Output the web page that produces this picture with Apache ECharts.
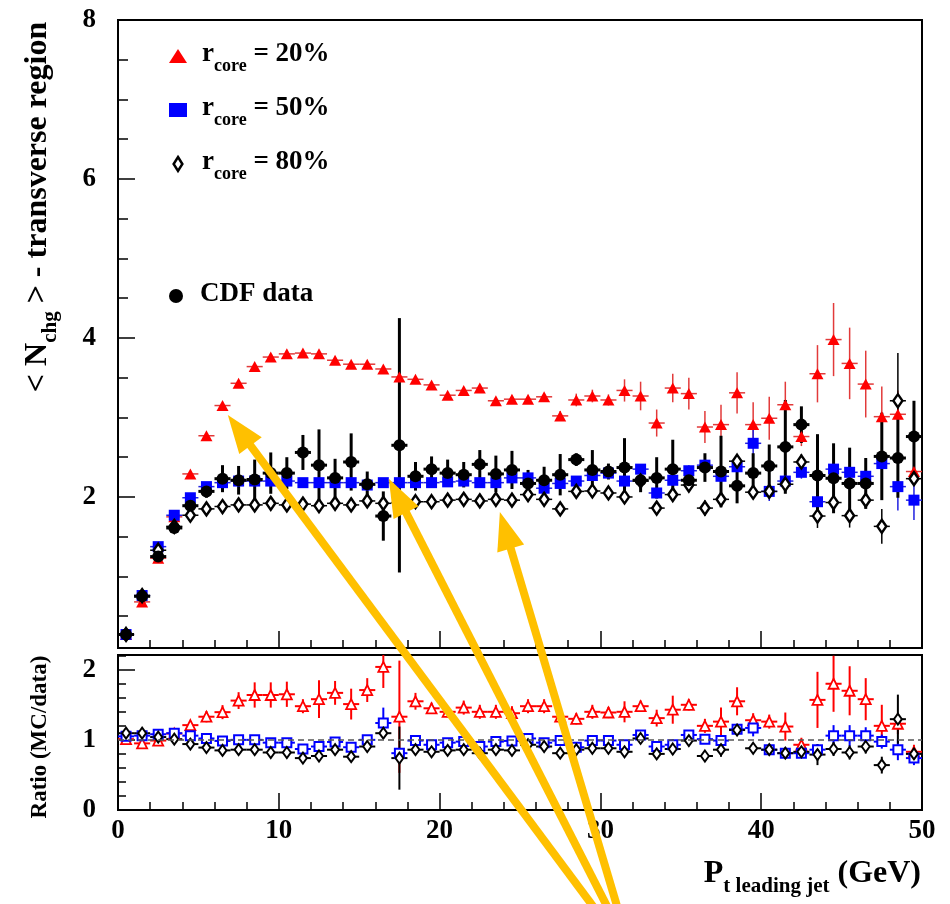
<!DOCTYPE html>
<html>
<head>
<meta charset="utf-8">
<script src="https://cdn.jsdelivr.net/npm/echarts@6/dist/echarts.min.js"></script>
<style>
  html, body { margin: 0; padding: 0; background: #ffffff; }
  #chart { width: 950px; height: 904px; }
</style>
</head>
<body>
<div id="chart"></div>
<script>
// Leading-jet Pt bin centres (GeV)
const bins = [0.5, 1.5, 2.5, 3.5, 4.5, 5.5, 6.5, 7.5, 8.5, 9.5,
  10.5, 11.5, 12.5, 13.5, 14.5, 15.5, 16.5, 17.5, 18.5, 19.5,
  20.5, 21.5, 22.5, 23.5, 24.5, 25.5, 26.5, 27.5, 28.5, 29.5,
  30.5, 31.5, 32.5, 33.5, 34.5, 35.5, 36.5, 37.5, 38.5, 39.5,
  40.5, 41.5, 42.5, 43.5, 44.5, 45.5, 46.5, 47.5, 48.5, 49.5];

// <Nchg> in the transverse region, MC with r_core = 20 %
const rcore20 = [0.27, 0.68, 1.23, 1.75, 2.29, 2.77, 3.15, 3.43, 3.64, 3.76,
  3.80, 3.81, 3.80, 3.72, 3.67, 3.67, 3.61, 3.51, 3.48, 3.41,
  3.28, 3.34, 3.37, 3.21, 3.23, 3.23, 3.26, 3.02, 3.22, 3.27,
  3.22, 3.34, 3.27, 2.93, 3.37, 3.30, 2.88, 2.91, 3.31, 2.91,
  2.99, 3.16, 2.76, 3.55, 3.98, 3.68, 3.42, 3.01, 3.04, 2.32];
const rcore20Err = [0.03, 0.03, 0.03, 0.03, 0.03, 0.03, 0.03, 0.03, 0.03, 0.03,
  0.03, 0.03, 0.03, 0.03, 0.03, 0.03, 0.03, 0.03, 0.03, 0.03,
  0.04, 0.04, 0.04, 0.04, 0.04, 0.04, 0.04, 0.06, 0.08, 0.08,
  0.07, 0.14, 0.18, 0.17, 0.18, 0.20, 0.20, 0.25, 0.26, 0.28,
  0.27, 0.29, 0.12, 0.36, 0.46, 0.45, 0.42, 0.38, 0.30, 0.15];

// MC with r_core = 50 %
const rcore50 = [0.27, 0.76, 1.375, 1.77, 1.99, 2.13, 2.18, 2.20, 2.20, 2.20,
  2.20, 2.18, 2.18, 2.18, 2.18, 2.15, 2.18, 2.18, 2.18, 2.18,
  2.19, 2.20, 2.18, 2.18, 2.24, 2.24, 2.11, 2.17, 2.20, 2.27,
  2.30, 2.20, 2.35, 2.05, 2.21, 2.33, 2.40, 2.26, 2.38, 2.675,
  2.07, 2.20, 2.31, 1.94, 2.35, 2.31, 2.26, 2.42, 2.13, 1.96];
const rcore50Err = [0.03, 0.03, 0.03, 0.03, 0.03, 0.03, 0.03, 0.03, 0.03, 0.03,
  0.03, 0.03, 0.03, 0.03, 0.03, 0.03, 0.03, 0.03, 0.03, 0.03,
  0.03, 0.03, 0.03, 0.03, 0.03, 0.03, 0.05, 0.04, 0.04, 0.04,
  0.04, 0.05, 0.05, 0.06, 0.06, 0.07, 0.08, 0.08, 0.10, 0.25,
  0.12, 0.08, 0.08, 0.10, 0.12, 0.12, 0.10, 0.15, 0.30, 0.25];

// MC with r_core = 80 %
const rcore80 = [0.27, 0.76, 1.33, 1.63, 1.77, 1.85, 1.88, 1.90, 1.90, 1.92,
  1.90, 1.91, 1.89, 1.92, 1.90, 1.95, 1.92, 1.93, 1.94, 1.94,
  1.96, 1.97, 1.95, 1.97, 1.96, 2.03, 1.97, 1.85, 2.07, 2.075,
  2.05, 2.00, 2.20, 1.86, 2.03, 2.15, 1.86, 1.97, 2.45, 2.06,
  2.07, 2.16, 2.44, 1.76, 1.93, 1.765, 1.96, 1.63, 3.21, 2.23];
const rcore80Err = [0.03, 0.03, 0.03, 0.03, 0.03, 0.03, 0.03, 0.03, 0.03, 0.03,
  0.03, 0.03, 0.03, 0.03, 0.03, 0.03, 0.03, 0.03, 0.03, 0.03,
  0.03, 0.03, 0.03, 0.03, 0.03, 0.03, 0.03, 0.04, 0.04, 0.04,
  0.04, 0.05, 0.05, 0.06, 0.06, 0.06, 0.10, 0.08, 0.08, 0.08,
  0.08, 0.08, 0.10, 0.15, 0.10, 0.15, 0.10, 0.22, 0.60, 0.08];

// CDF measurement
const cdfData = [0.27, 0.75, 1.25, 1.61, 1.89, 2.07, 2.23, 2.21, 2.22, 2.30,
  2.30, 2.56, 2.40, 2.24, 2.44, 2.16, 1.76, 2.65, 2.26, 2.35,
  2.30, 2.28, 2.41, 2.29, 2.34, 2.17, 2.21, 2.28, 2.47, 2.34,
  2.32, 2.37, 2.21, 2.24, 2.35, 2.21, 2.37, 2.32, 2.14, 2.30,
  2.39, 2.63, 2.91, 2.27, 2.235, 2.17, 2.17, 2.51, 2.49, 2.76];
const cdfErr = [0.02, 0.03, 0.04, 0.05, 0.06, 0.08, 0.17, 0.18, 0.25, 0.26,
  0.20, 0.22, 0.45, 0.24, 0.36, 0.16, 0.31, 1.60, 0.18, 0.16,
  0.17, 0.16, 0.18, 0.23, 0.24, 0.17, 0.17, 0.26, 0.08, 0.25,
  0.10, 0.37, 0.15, 0.26, 0.37, 0.12, 0.18, 0.45, 0.22, 0.25,
  0.27, 0.59, 0.23, 0.52, 0.44, 0.45, 0.32, 0.55, 0.50, 0.45];

// Ratio MC / data
const ratio20 = [1.01, 0.95, 0.99, 1.09, 1.21, 1.33, 1.395, 1.56, 1.64, 1.64,
  1.65, 1.48, 1.58, 1.67, 1.51, 1.71, 2.04, 1.33, 1.55, 1.45,
  1.40, 1.46, 1.40, 1.40, 1.38, 1.48, 1.48, 1.33, 1.30, 1.40,
  1.39, 1.40, 1.48, 1.31, 1.43, 1.50, 1.20, 1.26, 1.55, 1.28,
  1.26, 1.19, 0.93, 1.57, 1.80, 1.70, 1.58, 1.20, 1.23, 0.83];
const ratio20Err = [0.03, 0.03, 0.03, 0.03, 0.06, 0.08, 0.10, 0.12, 0.18, 0.18,
  0.18, 0.10, 0.27, 0.17, 0.22, 0.17, 0.30, 0.80, 0.12, 0.08,
  0.08, 0.10, 0.10, 0.10, 0.10, 0.10, 0.10, 0.08, 0.08, 0.10,
  0.08, 0.15, 0.08, 0.12, 0.20, 0.08, 0.10, 0.20, 0.20, 0.10,
  0.10, 0.20, 0.10, 0.40, 0.40, 0.35, 0.30, 0.30, 0.15, 0.10];
const ratio50 = [1.05, 1.06, 1.08, 1.095, 1.06, 1.02, 0.985, 1.00, 1.00, 0.96,
  0.96, 0.87, 0.905, 0.97, 0.895, 1.00, 1.24, 0.81, 0.99, 0.93,
  0.96, 0.975, 0.905, 0.975, 0.985, 1.02, 0.96, 0.99, 0.895, 0.99,
  0.99, 0.93, 1.07, 0.905, 0.93, 1.07, 1.01, 0.99, 1.15, 1.17,
  0.86, 0.81, 0.81, 0.86, 1.06, 1.06, 1.06, 0.975, 0.86, 0.74];
const ratio50Err = [0.03, 0.03, 0.03, 0.03, 0.03, 0.04, 0.04, 0.04, 0.04, 0.04,
  0.04, 0.04, 0.08, 0.04, 0.04, 0.05, 0.22, 0.06, 0.04, 0.04,
  0.04, 0.04, 0.04, 0.04, 0.04, 0.04, 0.04, 0.04, 0.04, 0.04,
  0.04, 0.04, 0.05, 0.05, 0.08, 0.04, 0.05, 0.06, 0.08, 0.12,
  0.06, 0.06, 0.06, 0.08, 0.15, 0.15, 0.12, 0.10, 0.15, 0.10];
const ratio80 = [1.095, 1.095, 1.04, 1.01, 0.94, 0.89, 0.85, 0.86, 0.86, 0.82,
  0.82, 0.74, 0.77, 0.86, 0.76, 0.905, 1.095, 0.74, 0.86, 0.83,
  0.85, 0.86, 0.81, 0.86, 0.85, 0.93, 0.905, 0.81, 0.86, 0.88,
  0.88, 0.83, 1.02, 0.80, 0.87, 0.99, 0.77, 0.86, 1.14, 0.88,
  0.86, 0.81, 0.83, 0.79, 0.87, 0.82, 0.905, 0.64, 1.295, 0.80];
const ratio80Err = [0.03, 0.03, 0.03, 0.03, 0.03, 0.04, 0.04, 0.04, 0.04, 0.04,
  0.04, 0.04, 0.08, 0.05, 0.05, 0.06, 0.07, 0.45, 0.04, 0.04,
  0.04, 0.04, 0.04, 0.04, 0.04, 0.04, 0.04, 0.05, 0.04, 0.05,
  0.04, 0.06, 0.04, 0.05, 0.08, 0.04, 0.06, 0.10, 0.07, 0.05,
  0.06, 0.08, 0.06, 0.15, 0.10, 0.10, 0.10, 0.12, 0.35, 0.08];

// Axis tick labels
const xTickLabels = [0, 10, 20, 30, 40, 50];
const yTickLabelsTop = [2, 4, 6, 8];
const yTickLabelsRatio = [0, 1, 2];

// Annotation arrows, given in (Pt, <Nchg>) coordinates of the upper panel
const arrowTips = [[6.83, 3.03], [16.84, 2.23], [23.75, 1.81]];
const arrowTails = [[31.2, -3.6], [31.55, -3.6], [31.7, -3.6]];

const BIN_HALF = 0.5;
const SERIF = "'Liberation Serif', 'DejaVu Serif', serif";
const RED = '#ff0000', BLUE = '#0000ff', BLACK = '#000000', GOLD = '#ffc000';

function withErr(ys, errs) {
  return bins.map((x, i) => [x, ys[i], errs[i]]);
}
function points(ys) {
  return bins.map((x, i) => [x, ys[i]]);
}
function minorTicks(lo, hi, step) {
  const out = [];
  for (let v = lo; v <= hi + 1e-9; v += step) out.push(Math.round(v * 100) / 100);
  return out;
}

// vertical error bar plus a horizontal bar spanning the bin width
function barRenderer(color, vWidth, hWidth) {
  return function (params, api) {
    const x = api.value(0), y = api.value(1), e = api.value(2);
    const hi = api.coord([x, y + e]);
    const lo = api.coord([x, y - e]);
    const l = api.coord([x - BIN_HALF, y]);
    const r = api.coord([x + BIN_HALF, y]);
    return {
      type: 'group',
      children: [
        { type: 'line', shape: { x1: hi[0], y1: hi[1], x2: lo[0], y2: lo[1] }, style: { stroke: color, lineWidth: vWidth } },
        { type: 'line', shape: { x1: l[0], y1: l[1], x2: r[0], y2: r[1] }, style: { stroke: color, lineWidth: hWidth } }
      ]
    };
  };
}

function errSeries(name, xi, yi, data, color, vW, hW) {
  return {
    name: name, type: 'custom', xAxisIndex: xi, yAxisIndex: yi,
    data: data, encode: { x: 0, y: 1 }, clip: true, silent: true,
    renderItem: barRenderer(color, vW, hW)
  };
}
function markerSeries(name, xi, yi, data, symbol, size, itemStyle) {
  return {
    name: name, type: 'scatter', xAxisIndex: xi, yAxisIndex: yi,
    data: data, symbol: symbol, symbolSize: size,
    itemStyle: Object.assign({ opacity: 1 }, itemStyle),
    clip: true, silent: true
  };
}

const richText = {
  m: { fontFamily: SERIF, fontWeight: 'bold', fontSize: 27, lineHeight: 30, verticalAlign: 'top', color: '#000' },
  s: { fontFamily: SERIF, fontWeight: 'bold', fontSize: 18, lineHeight: 20, verticalAlign: 'top', padding: [16, 0, 0, 0], color: '#000' },
  g: { fontFamily: SERIF, fontWeight: 'bold', fontSize: 27, lineHeight: 30, verticalAlign: 'top', padding: [0, 0, 0, 10], color: '#000' },
  M: { fontFamily: SERIF, fontWeight: 'bold', fontSize: 32, lineHeight: 36, verticalAlign: 'top', color: '#000' },
  S: { fontFamily: SERIF, fontWeight: 'bold', fontSize: 21, lineHeight: 24, verticalAlign: 'top', padding: [18, 0, 0, 0], color: '#000' }
};

function legendLabel(name) {
  if (name.indexOf('r_core') === 0) {
    return '{g|r}{s|core}{m| ' + name.slice(7) + '}';
  }
  return '{g|' + name + '}';
}

const chart = echarts.init(document.getElementById('chart'), null, { renderer: 'canvas' });

const axisTextStyle = { fontFamily: SERIF, fontWeight: 'bold', fontSize: 27, color: '#000' };

const option = {
  backgroundColor: '#ffffff',
  animation: false,
  grid: [
    { left: 118, top: 20, width: 804, height: 628, show: true, borderColor: '#000', borderWidth: 2, backgroundColor: 'transparent' },
    { left: 118, top: 655, width: 804, height: 155, show: true, borderColor: '#000', borderWidth: 2, backgroundColor: 'transparent' }
  ],
  xAxis: [
    {
      gridIndex: 0, type: 'value', min: 0, max: 50, interval: 10,
      axisLine: { show: false }, splitLine: { show: false },
      axisTick: { show: true, inside: true, length: 17, lineStyle: { color: '#000', width: 1.5 } },
      minorTick: { show: true, splitNumber: 5, length: 8, lineStyle: { color: '#000', width: 1.5 } },
      axisLabel: { show: false }
    },
    {
      gridIndex: 1, type: 'value', min: 0, max: 50, interval: 10,
      axisLine: { show: false }, splitLine: { show: false },
      axisTick: { show: true, inside: true, length: 17, lineStyle: { color: '#000', width: 1.5 } },
      minorTick: { show: true, splitNumber: 5, length: 8, lineStyle: { color: '#000', width: 1.5 } },
      axisLabel: Object.assign({ show: true, margin: 8, customValues: xTickLabels }, axisTextStyle)
    }
  ],
  yAxis: [
    {
      gridIndex: 0, type: 'value', min: 0.1, max: 8,
      axisLine: { show: false }, splitLine: { show: false },
      axisTick: { show: true, inside: true, length: 10, customValues: minorTicks(0.5, 8, 0.5), lineStyle: { color: '#000', width: 1.5 } },
      axisLabel: Object.assign({ show: true, margin: 22, customValues: yTickLabelsTop }, axisTextStyle)
    },
    {
      gridIndex: 0, type: 'value', min: 0.1, max: 8, position: 'left',
      axisLine: { show: false }, splitLine: { show: false },
      axisTick: { show: true, inside: true, length: 17, customValues: yTickLabelsTop, lineStyle: { color: '#000', width: 1.5 } },
      axisLabel: { show: false }
    },
    {
      gridIndex: 1, type: 'value', min: 0, max: 2.21, interval: 1,
      axisLine: { show: false }, splitLine: { show: false },
      axisTick: { show: true, inside: true, length: 17, lineStyle: { color: '#000', width: 1.5 } },
      minorTick: { show: true, splitNumber: 5, length: 8, lineStyle: { color: '#000', width: 1.5 } },
      axisLabel: Object.assign({ show: true, margin: 22, customValues: yTickLabelsRatio }, axisTextStyle)
    }
  ],
  legend: [
    {
      data: [
        { name: 'r_core = 20%' },
        { name: 'r_core = 50%' },
        { name: 'r_core = 80%', icon: 'path://M5,0L10,8L5,16L0,8Z', itemStyle: { color: '#ffffff', borderColor: BLACK, borderWidth: 2.5 } }
      ],
      orient: 'vertical', left: 164, top: 36, itemWidth: 18, itemHeight: 14, itemGap: 20,
      selectedMode: false, formatter: legendLabel,
      textStyle: { rich: richText }
    },
    {
      data: ['CDF data'],
      orient: 'vertical', left: 164, top: 276, itemWidth: 18, itemHeight: 14,
      selectedMode: false, formatter: legendLabel,
      textStyle: { rich: richText }
    }
  ],
  graphic: {
    elements: [
      {
        id: 'ytitle-top', type: 'text', x: 40, y: 207, rotation: Math.PI / 2,
        style: { text: '{M|< N}{S|chg}{M| > - transverse region}', rich: richText, align: 'center', verticalAlign: 'middle' }
      },
      {
        id: 'ytitle-ratio', type: 'text', x: 40, y: 737, rotation: Math.PI / 2,
        style: { text: 'Ratio (MC/data)', fontFamily: SERIF, fontWeight: 'bold', fontSize: 23, fill: '#000', align: 'center', verticalAlign: 'middle' }
      },
      {
        id: 'xtitle', type: 'text', x: 921, y: 876,
        style: { text: '{M|P}{S|t leading jet}{M| (GeV)}', rich: richText, align: 'right', verticalAlign: 'middle' }
      }
    ]
  },
  series: [
    // upper panel
    errSeries('bars 20', 0, 0, withErr(rcore20, rcore20Err), '#e23a3a', 1.5, 1.5),
    markerSeries('r_core = 20%', 0, 0, points(rcore20), 'triangle', [12, 11], { color: RED }),
    errSeries('bars 50', 0, 0, withErr(rcore50, rcore50Err), '#2020e0', 1.5, 1.5),
    markerSeries('r_core = 50%', 0, 0, points(rcore50), 'rect', 11, { color: BLUE }),
    errSeries('bars 80', 0, 0, withErr(rcore80, rcore80Err), BLACK, 1.5, 1.5),
    markerSeries('r_core = 80%', 0, 0, points(rcore80), 'diamond', [9, 13], { color: '#ffffff', borderColor: BLACK, borderWidth: 2.5 }),
    errSeries('bars data', 0, 0, withErr(cdfData, cdfErr), BLACK, 3, 3),
    markerSeries('CDF data', 0, 0, points(cdfData), 'circle', 12, { color: BLACK }),

    // ratio panel
    Object.assign(errSeries('ratio bars 20', 1, 2, withErr(ratio20, ratio20Err), RED, 2, 2), {
      markLine: {
        silent: true, symbol: 'none', label: { show: false },
        lineStyle: { color: '#555555', type: [6, 4], width: 1.5 },
        data: [{ yAxis: 1 }]
      }
    }),
    markerSeries('ratio 20', 1, 2, points(ratio20), 'triangle', [10, 10], { color: '#ffffff', borderColor: RED, borderWidth: 1.8 }),
    errSeries('ratio bars 50', 1, 2, withErr(ratio50, ratio50Err), BLUE, 2, 2),
    markerSeries('ratio 50', 1, 2, points(ratio50), 'rect', 9, { color: '#ffffff', borderColor: BLUE, borderWidth: 2 }),
    errSeries('ratio bars 80', 1, 2, withErr(ratio80, ratio80Err), BLACK, 2, 2),
    markerSeries('ratio 80', 1, 2, points(ratio80), 'diamond', [8, 11], { color: '#ffffff', borderColor: BLACK, borderWidth: 2 })
  ]
};

chart.setOption(option);

// yellow annotation arrows pointing at the three MC curves
function arrowElements(tip, tail, k) {
  const p = chart.convertToPixel({ xAxisIndex: 0, yAxisIndex: 0 }, tip);
  const q = chart.convertToPixel({ xAxisIndex: 0, yAxisIndex: 0 }, tail);
  const dx = p[0] - q[0], dy = p[1] - q[1];
  const len = Math.hypot(dx, dy);
  const ux = dx / len, uy = dy / len;
  const nx = -uy, ny = ux;
  const headLen = 38, headHalf = 14;
  const bx = p[0] - ux * headLen, by = p[1] - uy * headLen;
  return [
    {
      id: 'arrow-shaft-' + k, type: 'line', z: 100, silent: true,
      shape: { x1: q[0], y1: q[1], x2: bx + ux * 3, y2: by + uy * 3 },
      style: { stroke: GOLD, lineWidth: 8 }
    },
    {
      id: 'arrow-head-' + k, type: 'polygon', z: 100, silent: true,
      shape: { points: [[p[0], p[1]], [bx + nx * headHalf, by + ny * headHalf], [bx - nx * headHalf, by - ny * headHalf]] },
      style: { fill: GOLD }
    }
  ];
}

let arrows = [];
arrowTips.forEach((tip, k) => { arrows = arrows.concat(arrowElements(tip, arrowTails[k], k)); });
chart.setOption({ graphic: { elements: arrows } });
</script>
</body>
</html>
